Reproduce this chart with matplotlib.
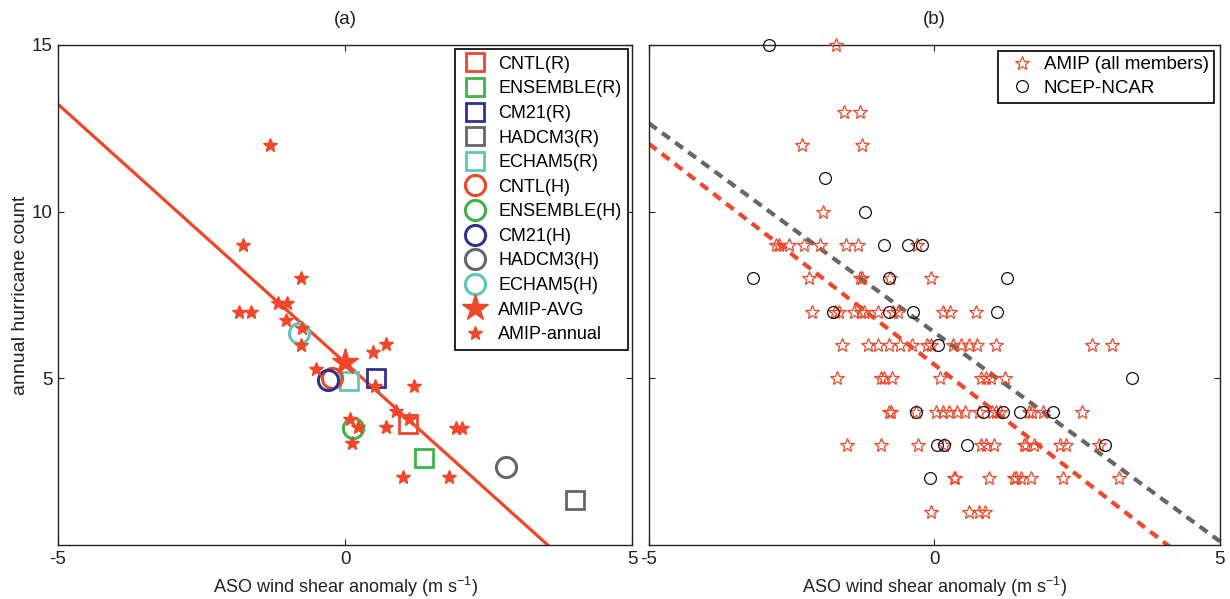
import matplotlib
matplotlib.use("Agg")
import matplotlib.pyplot as plt

plt.rcParams["font.family"] = ["Liberation Sans", "DejaVu Sans"]
plt.rcParams["axes.unicode_minus"] = False
plt.rcParams["mathtext.default"] = "regular"

RED = "#f0472a"
GREEN = "#3cb44a"
BLUE = "#2e3192"
GRAY = "#666666"
TEAL = "#5ec6b8"
INK = "#222222"

# ---- panel (a): model experiments vs. shear ----
model_names = ["CNTL", "ENSEMBLE", "CM21", "HADCM3", "ECHAM5"]
model_colors = [RED, GREEN, BLUE, GRAY, TEAL]
r_shear = [1.10, 1.38, 0.54, 4.00, 0.07]
r_count = [3.63, 2.62, 5.02, 1.35, 4.93]
h_shear = [-0.22, 0.14, -0.30, 2.81, -0.80]
h_count = [5.00, 3.52, 4.95, 2.34, 6.36]

amip_avg_shear = [0.0]
amip_avg_count = [5.49]

amip_annual_shear = [-1.31, -1.78, -0.77, -1.84, -1.64, -1.16, -1.01, -1.03,
                     -0.75, -0.77, -0.51, 0.49, 0.72, 0.52, 1.20, 0.88,
                     1.12, 0.09, 0.22, 0.72, 0.12, 1.01, 1.81, 1.93, 2.03]
amip_annual_count = [12.0, 9.0, 8.0, 7.0, 7.0, 7.27, 7.27, 6.76,
                     6.5, 6.0, 5.29, 5.78, 6.03, 4.77, 4.77, 4.03,
                     3.78, 3.78, 3.55, 3.53, 3.06, 2.03, 2.03, 3.5, 3.5]

fit_a_intercept = 5.47
fit_a_slope = -1.55

# ---- panel (b): every AMIP member and reanalysis ----
members_shear = [
    -1.73,
    -1.58, -1.30,
    -2.32, -1.26,
    -1.96,
    -2.77, -2.73, -2.55, -2.28, -2.01, -1.55, -1.34, -0.30,
    -2.20, -1.31, -1.26, -0.78, -0.06,
    -2.14, -1.75, -1.68, -1.40, -1.29, -1.24, -0.98, -0.72, -0.64, 0.15, 0.27, 0.72,
    -1.62, -1.16, -0.99, -0.79, -0.60, -0.40, -0.13, -0.06, 0.33, 0.47, 0.61, 0.74, 1.08, 2.76, 3.11,
    -1.70, -0.93, -0.88, -0.75, 0.10, 0.82, 0.91, 0.99, 1.23,
    -0.80, -0.76, -0.32, 0.02, 0.15, 0.26, 0.39, 0.53, 0.78, 1.01, 1.08, 1.14, 1.65, 1.71, 1.91, 2.59,
    -1.53, -0.94, -0.29, 0.16, 0.82, 0.91, 1.04, 1.56, 1.60, 1.74, 2.20, 2.31, 2.89,
    0.35, 0.36, 0.96, 1.40, 1.43, 1.52, 1.69, 2.25, 3.24,
    -0.06, 0.61, 0.78, 0.89,
]
members_count = [
    15,
    13, 13,
    12, 12,
    10,
    9, 9, 9, 9, 9, 9, 9, 9,
    8, 8, 8, 8, 8,
    7, 7, 7, 7, 7, 7, 7, 7, 7, 7, 7, 7,
    6, 6, 6, 6, 6, 6, 6, 6, 6, 6, 6, 6, 6, 6, 6,
    5, 5, 5, 5, 5, 5, 5, 5, 5,
    4, 4, 4, 4, 4, 4, 4, 4, 4, 4, 4, 4, 4, 4, 4, 4,
    3, 3, 3, 3, 3, 3, 3, 3, 3, 3, 3, 3, 3,
    2, 2, 2, 2, 2, 2, 2, 2, 2,
    1, 1, 1, 1,
]

ncep_shear = [-2.90, -1.92, -1.21, -0.88, -0.46, -0.22, -3.17, -0.80, 1.27,
              -1.77, -0.79, -0.37, 1.10, 0.07, 3.46,
              -0.32, 0.85, 1.20, 1.49, 2.07, 0.04, 0.16, 0.57, 2.99, -0.07]
ncep_count = [15, 11, 10, 9, 9, 9, 8, 8, 8,
              7, 7, 7, 7, 6, 5,
              4, 4, 4, 4, 4, 3, 3, 3, 3, 2]

fit_amip_intercept = 5.41
fit_amip_slope = -1.325
fit_ncep_intercept = 6.38
fit_ncep_slope = -1.254

x_ticks = [-5, 0, 5]
y_ticks = [5, 10, 15]

fig = plt.figure(figsize=(12.30, 5.99), dpi=100)
ax_a = fig.add_axes([0.0472, 0.0902, 0.4667, 0.8347])
ax_b = fig.add_axes([0.5276, 0.0902, 0.4642, 0.8347])

for ax in (ax_a, ax_b):
    ax.set_xlim(-5, 5)
    ax.set_ylim(0, 15)
    ax.set_xticks(x_ticks)
    ax.set_yticks(y_ticks)
    ax.tick_params(direction="in", top=True, right=True, length=4.5,
                   width=0.8, labelsize=13.5, colors=INK, pad=4)
    for sp in ax.spines.values():
        sp.set_linewidth(1.0)
        sp.set_color(INK)
    ax.set_xlabel(r"ASO wind shear anomaly (m s$^{-1}$)", fontsize=13,
                  color=INK, labelpad=5)
ax_b.tick_params(labelleft=False)

# panel (a)
xs = [-5, 5]
ax_a.plot(xs, [fit_a_intercept + fit_a_slope * x for x in xs],
          color=RED, lw=2.3, zorder=2)
handles = []
for name, c, x, y in zip(model_names, model_colors, r_shear, r_count):
    h, = ax_a.plot([x], [y], ls="none", marker="s", ms=12.5, mfc="none",
                   mec=c, mew=2.0, label=f"{name}(R)", zorder=3)
    handles.append(h)
for name, c, x, y in zip(model_names, model_colors, h_shear, h_count):
    h, = ax_a.plot([x], [y], ls="none", marker="o", ms=14.5, mfc="none",
                   mec=c, mew=2.2, label=f"{name}(H)", zorder=3)
    handles.append(h)
h, = ax_a.plot(amip_avg_shear, amip_avg_count, ls="none", marker="*",
               ms=20, color=RED, mec=RED, label="AMIP-AVG", zorder=4)
handles.append(h)
h, = ax_a.plot(amip_annual_shear, amip_annual_count, ls="none", marker="*",
               ms=10, color=RED, mec=RED, label="AMIP-annual", zorder=4)
handles.append(h)
leg_a = ax_a.legend(handles=handles, loc="upper right", fontsize=13,
                    frameon=True, fancybox=False, framealpha=1,
                    edgecolor="#111111", borderaxespad=0.25,
                    labelspacing=0.42, handlelength=1.5, handletextpad=0.55,
                    borderpad=0.35, numpoints=1)
leg_a.get_frame().set_linewidth(1.3)
ax_a.set_ylabel("annual hurricane count", fontsize=14, color=INK,
                labelpad=2)
ax_a.set_title("(a)", fontsize=13.5, color=INK, pad=15)

# panel (b)
ax_b.plot(xs, [fit_amip_intercept + fit_amip_slope * x for x in xs],
          color=RED, lw=3.0, ls=(0, (2.3, 1.6)), zorder=2)
ax_b.plot(xs, [fit_ncep_intercept + fit_ncep_slope * x for x in xs],
          color=GRAY, lw=3.0, ls=(0, (2.3, 1.6)), zorder=2)
hs, = ax_b.plot(members_shear, members_count, ls="none", marker="*", ms=10,
                mfc="none", mec=RED, mew=0.9, label="AMIP (all members)",
                zorder=3, clip_on=False)
hc, = ax_b.plot(ncep_shear, ncep_count, ls="none", marker="o", ms=8.5,
                mfc="none", mec="#111111", mew=0.9, label="NCEP-NCAR",
                zorder=3, clip_on=False)
leg_b = ax_b.legend(handles=[hs, hc], loc="upper right", fontsize=13.5,
                    frameon=True, fancybox=False, framealpha=1,
                    edgecolor="#111111", borderaxespad=0.3,
                    labelspacing=0.35, handlelength=2.0, handletextpad=0.15,
                    borderpad=0.3, numpoints=1)
leg_b.get_frame().set_linewidth(1.3)
ax_b.set_title("(b)", fontsize=13.5, color=INK, pad=15)

fig.savefig("out.png", dpi=100)
